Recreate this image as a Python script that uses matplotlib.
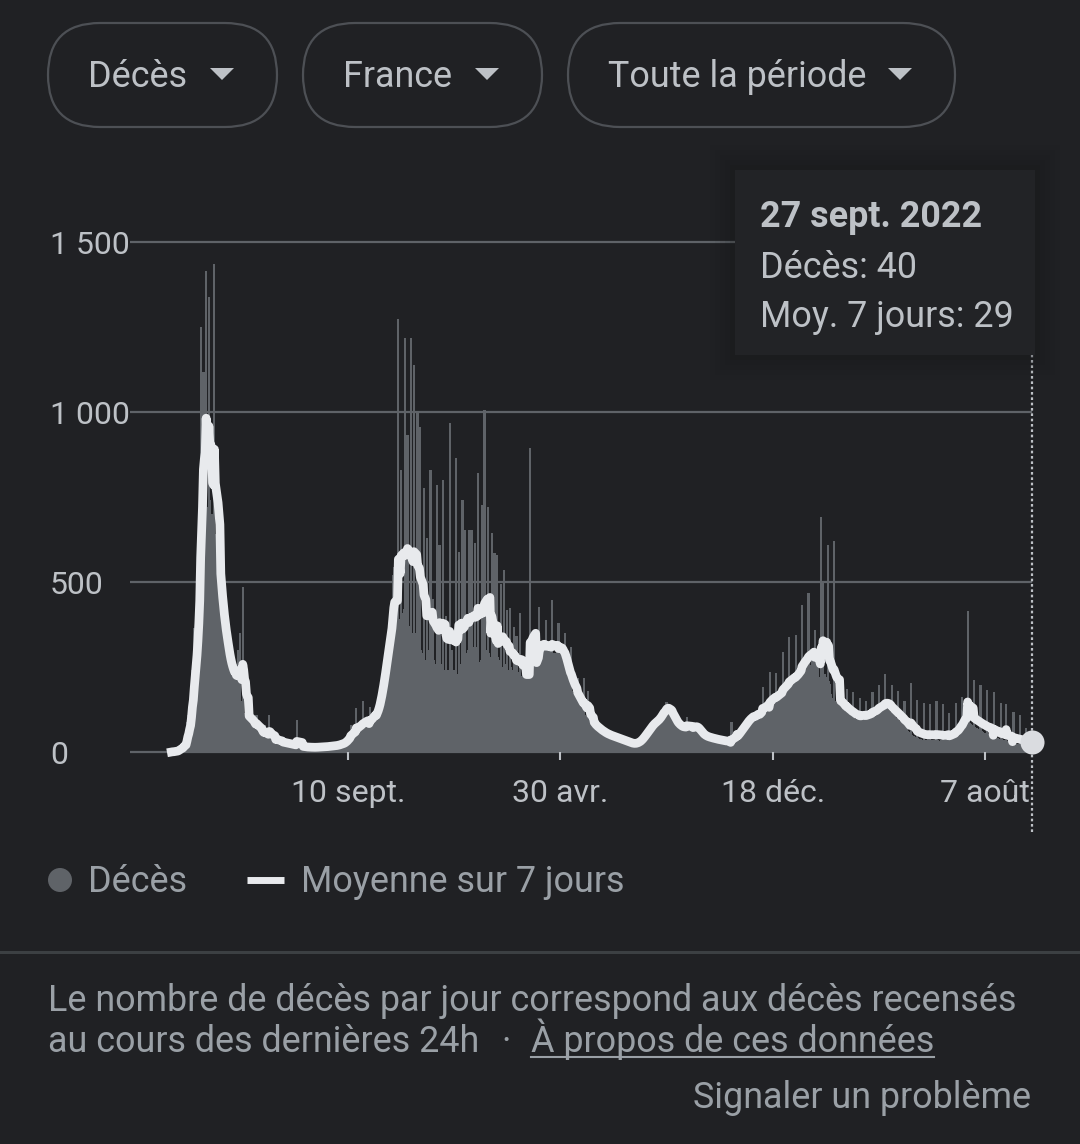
import matplotlib
matplotlib.use("Agg")
import matplotlib.pyplot as plt
import pandas as pd
from matplotlib.patches import FancyBboxPatch, Polygon, Circle, Rectangle

plt.rcParams["font.family"] = ["Roboto", "DejaVu Sans"]

# --- data (daily deaths, France), one row per week Sunday..Saturday ---
start_date = "2020-03-01"

deaths_2020 = [
    0, 1, 1, 2, 3, 4, 5,
    4, 9, 15, 12, 18, 13, 18,
    36, 21, 27, 89, 108, 78, 112,
    112, 186, 240, 231, 365, 299, 319,
    350, 480, 600, 700, 1250, 820, 850,
    1118, 690, 730, 1415, 720, 700, 1338,
    740, 690, 650, 700, 680, 1435, 640,
    600, 560, 520, 480, 450, 420, 390,
    380, 360, 340, 320, 300, 285, 270,
    255, 245, 240, 235, 230, 225, 220,
    260, 170, 230, 300, 160, 349, 150,
    130, 486, 115, 110, 105, 100, 95,
    110, 105, 95, 90, 85, 80, 78,
    75, 72, 108, 70, 66, 62, 60,
    58, 55, 52, 50, 80, 48, 46,
    45, 44, 110, 42, 40, 38, 36,
    35, 34, 33, 50, 32, 30, 29,
    30, 29, 28, 27, 28, 26, 25,
    26, 25, 24, 23, 24, 22, 21,
    21, 20, 20, 19, 95, 18, 18,
    17, 16, 16, 15, 16, 15, 14,
    15, 14, 14, 15, 14, 13, 14,
    14, 13, 14, 15, 14, 15, 14,
    15, 14, 15, 16, 15, 16, 15,
    16, 15, 17, 18, 17, 18, 17,
    18, 17, 19, 20, 19, 21, 20,
    22, 21, 24, 26, 25, 28, 27,
    30, 32, 38, 42, 45, 48, 50,
    80, 50, 55, 58, 60, 62, 130,
    65, 68, 70, 72, 75, 78, 150,
    78, 80, 82, 85, 84, 86, 90,
    132, 95, 100, 105, 110, 108, 112,
    125, 140, 150, 165, 180, 195, 205,
    230, 250, 270, 290, 310, 330, 345,
    360, 380, 400, 420, 520, 545, 460,
    380, 390, 400, 1273, 390, 380, 829,
    400, 410, 420, 1217, 410, 400, 932,
    370, 360, 350, 1217, 350, 340, 1138,
    350, 340, 330, 996, 320, 310, 957,
    300, 290, 280, 776, 270, 260, 629,
    300, 290, 280, 829, 280, 270, 450,
    270, 260, 250, 785, 250, 240, 608,
    260, 250, 240, 800, 240, 230, 400,
    176, 240, 230, 968, 159,
]

deaths_2021 = [
    230, 300,
    230, 240, 240, 865, 230, 220, 589,
    240, 250, 260, 741, 250, 240, 653,
    280, 290, 300, 653, 300, 290, 653,
    300, 305, 310, 614, 310, 300, 820,
    260, 265, 270, 726, 265, 260, 1006,
    290, 295, 300, 721, 290, 280, 270,
    644, 200, 200, 585, 200, 190, 579,
    280, 270, 260, 494, 250, 240, 535,
    260, 250, 245, 417, 240, 235, 423,
    250, 240, 235, 368, 230, 225, 340,
    240, 235, 230, 409, 225, 220, 230,
    235, 230, 225, 230, 225, 220, 230,
    894, 250, 250, 280, 260, 250, 260,
    290, 300, 300, 427, 300, 290, 290,
    300, 310, 300, 388, 300, 290, 300,
    290, 300, 290, 447, 290, 280, 290,
    290, 300, 300, 379, 300, 290, 290,
    280, 270, 260, 350, 240, 230, 220,
    210, 200, 190, 310, 180, 175, 170,
    165, 160, 155, 217, 145, 140, 135,
    130, 125, 120, 217, 110, 105, 100,
    180, 100, 95, 90, 85, 82, 80,
    78, 75, 72, 70, 68, 66, 64,
    62, 60, 58, 57, 55, 54, 52,
    51, 50, 49, 48, 47, 46, 45,
    44, 43, 42, 41, 40, 39, 38,
    37, 36, 35, 34, 33, 32, 31,
    30, 29, 28, 27, 26, 25, 25,
    24, 25, 26, 27, 28, 30, 32,
    34, 36, 40, 44, 48, 52, 56,
    58, 62, 66, 70, 74, 78, 82,
    84, 86, 88, 90, 92, 95, 98,
    100, 105, 110, 115, 120, 125, 130,
    120, 125, 147, 130, 125, 120, 115,
    110, 105, 100, 95, 90, 85, 80,
    78, 76, 80, 75, 74, 72, 70,
    72, 74, 76, 103, 72, 70, 68,
    70, 72, 74, 76, 78, 76, 74,
    70, 66, 62, 58, 55, 52, 50,
    48, 47, 46, 45, 44, 43, 42,
    42, 41, 40, 40, 39, 38, 38,
    37, 36, 36, 35, 35, 34, 34,
    33, 33, 32, 32, 31, 32, 33,
    34, 36, 0, 88, 40, 42, 44,
    46, 50, 54, 58, 62, 66, 70,
    72, 76, 80, 84, 88, 92, 96,
    98, 100, 102, 104, 106, 108, 110,
    100, 105, 110, 125, 115, 110, 112,
    120, 125, 191, 130, 125, 120, 125,
    135, 140, 145, 234, 145, 140, 145,
    150, 155, 160, 232, 160, 155, 160,
    165, 170, 175, 294, 180, 175,
]

deaths_2022 = [
    180,
    185, 190, 195, 338, 195, 190, 195,
    200, 205, 210, 343, 215, 210, 215,
    225, 230, 235, 432, 240, 240, 245,
    250, 255, 260, 467, 260, 255, 250,
    270, 275, 280, 359, 280, 275, 270,
    220, 210, 200, 691, 200, 500, 210,
    230, 220, 210, 609, 210, 200, 190,
    170, 160, 150, 620, 150, 145, 140,
    150, 145, 140, 188, 135, 130, 125,
    125, 120, 118, 185, 115, 112, 110,
    108, 105, 100, 176, 100, 98, 96,
    100, 98, 96, 158, 98, 100, 102,
    102, 100, 98, 150, 104, 106, 108,
    110, 108, 106, 176, 112, 114, 116,
    118, 120, 122, 198, 124, 126, 128,
    128, 130, 132, 229, 130, 128, 125,
    122, 118, 115, 198, 112, 110, 108,
    105, 100, 96, 180, 92, 90, 88,
    85, 82, 80, 150, 76, 74, 72,
    62, 58, 55, 203, 50, 48, 46,
    45, 43, 42, 153, 40, 39, 38,
    37, 36, 36, 144, 35, 35, 34,
    36, 37, 38, 140, 36, 35, 34,
    34, 35, 36, 150, 34, 33, 32,
    33, 34, 35, 140, 34, 33, 34,
    38, 39, 40, 115, 40, 41, 42,
    45, 48, 50, 144, 52, 55, 58,
    70, 75, 80, 162, 88, 92, 96,
    90, 88, 415, 90, 85, 82, 80,
    78, 76, 212, 74, 72, 70, 68,
    66, 64, 197, 62, 60, 58, 57,
    56, 55, 182, 54, 53, 52, 51,
    46, 45, 44, 176, 43, 42, 41,
    40, 39, 38, 144, 37, 36, 35,
    35, 34, 141, 33, 32, 31, 30,
    30, 29, 28, 118, 27, 26, 25,
    25, 24, 24, 110, 23, 22, 22,
    22, 21, 21, 70, 19, 19, 18,
    19, 18, 40,
]

x_tick_dates = ["2020-09-10", "2021-04-30", "2021-12-18", "2022-08-07"]
x_tick_labels = ["10 sept.", "30 avr.", "18 déc.", "7 août"]
y_ticks = [0, 500, 1000, 1500]
y_tick_labels = ["0", "500", "1 000", "1 500"]

menu_labels = ["Décès", "France", "Toute la période"]
tooltip_date = "27 sept. 2022"
legend_labels = ["Décès", "Moyenne sur 7 jours"]

# colours
BG = "#202124"
GREY = "#5f6368"
LINE = "#e8eaed"
TEXT = "#bdc1c6"
MUTED = "#9aa0a6"
FS = 25.8

deaths = pd.Series(deaths_2020 + deaths_2021 + deaths_2022, dtype=float)
dates = pd.date_range(start_date, periods=len(deaths), freq="D")
avg7 = deaths.rolling(7, min_periods=1).mean()

W, H = 1080, 1144
fig = plt.figure(figsize=(W / 100, H / 100), dpi=100, facecolor=BG)

# background layer in pixel coordinates (buttons, legend, footer)
bg = fig.add_axes([0, 0, 1, 1])
bg.set_xlim(0, W)
bg.set_ylim(H, 0)
bg.axis("off")
bg.set_zorder(0)

button_x = [(48, 277), (303, 542), (568, 955)]
arrow_x = [222, 487, 900]
for (x0, x1), label, ax_ in zip(button_x, menu_labels, arrow_x):
    bg.add_patch(FancyBboxPatch((x0, 23), x1 - x0, 104,
                                boxstyle="round,pad=0,rounding_size=52",
                                fc="none", ec="#4d5055", lw=1.6))
    bg.text(x0 + 40, 87, label, fontsize=FS, color=TEXT, va="baseline", ha="left")
    bg.add_patch(Polygon([(ax_ - 12, 68), (ax_ + 12, 68), (ax_, 80)],
                         closed=True, fc=TEXT, ec="none"))

# legend
bg.add_patch(Circle((60, 880), 12, fc=GREY, ec="none"))
bg.text(88, 892, legend_labels[0], fontsize=FS, color=MUTED, va="baseline")
bg.plot([247, 284], [880, 880], color=LINE, lw=5, solid_capstyle="butt")
bg.text(301, 892, legend_labels[1], fontsize=FS, color=MUTED, va="baseline")

# separator + footer
bg.plot([0, W], [952, 952], color="#3c4043", lw=2.2)
bg.text(48, 1011, "Le nombre de décès par jour correspond aux décès recensés",
        fontsize=FS, color=MUTED, va="baseline")
bg.text(48, 1052, "au cours des dernières 24h", fontsize=FS, color=MUTED, va="baseline")
bg.text(506, 1052, "·", fontsize=FS, color=MUTED, va="baseline", ha="center")
bg.text(531, 1052, "À propos de ces données", fontsize=FS, color=MUTED, va="baseline")
bg.plot([531, 934], [1057, 1057], color=MUTED, lw=1.5)
bg.text(1031, 1108, "Signaler un problème", fontsize=FS, color=MUTED,
        va="baseline", ha="right")

# main chart
ax = fig.add_axes([130 / W, (H - 760) / H, 910 / W, 530 / H])
ax.set_zorder(1)
ax.set_facecolor("none")
t0 = dates[0]
ax.set_xlim(t0 - pd.Timedelta(days=45.2), t0 + pd.Timedelta(days=949))
ax.set_ylim(-23.5, 1535.3)

for v in y_ticks:
    ax.axhline(v, xmin=0, xmax=(1031 - 130) / 910, color=GREY, lw=1.6, zorder=0)

ax.bar(dates, deaths, width=2.4, color=GREY, lw=0, zorder=1)
ax.plot(dates, avg7, color=LINE, lw=6.3, zorder=2)

ax.axvline(dates[-1], ymin=(760 - 832) / 530, ymax=(760 - 172) / 530,
           color=TEXT, lw=1.6, ls=(0, (1.2, 1.2)), clip_on=False, zorder=3)
ax.scatter([dates[-1]], [avg7.iloc[-1]], s=300, color="#dadce0", lw=0,
           zorder=4, clip_on=False)

ax.set_xticks(pd.to_datetime(x_tick_dates))
ax.set_xticklabels(x_tick_labels)
ax.set_yticks(y_ticks)
ax.set_yticklabels(y_tick_labels)
ax.tick_params(axis="x", direction="in", length=6, width=1.5, color=TEXT,
               labelsize=23, labelcolor=TEXT, pad=13.5)
ax.tick_params(axis="y", length=0, labelsize=23, labelcolor=TEXT, pad=57.6)
for lbl in ax.get_yticklabels():
    lbl.set_horizontalalignment("left")
for s in ax.spines.values():
    s.set_visible(False)

# tooltip on top
top = fig.add_axes([0, 0, 1, 1])
top.set_xlim(0, W)
top.set_ylim(H, 0)
top.axis("off")
top.set_zorder(3)
for k, a in enumerate([0.12, 0.09, 0.07, 0.05, 0.03]):
    g = 5 * (k + 1)
    top.add_patch(Rectangle((735 - g, 170 - g), 300 + 2 * g, 185 + 2 * g,
                            fc="#18191b", ec="none", alpha=a))
top.add_patch(Rectangle((735, 170), 300, 185, fc="#222326", ec="none"))
top.text(760, 227, tooltip_date, fontsize=FS, fontweight="bold", color=TEXT, va="baseline")
top.text(760, 278, f"Décès: {int(deaths.iloc[-1])}", fontsize=FS, color=TEXT, va="baseline")
top.text(760, 327, f"Moy. 7 jours: {int(round(avg7.iloc[-1]))}", fontsize=FS,
         color=TEXT, va="baseline")

fig.savefig("out.png", dpi=100, facecolor=BG)
